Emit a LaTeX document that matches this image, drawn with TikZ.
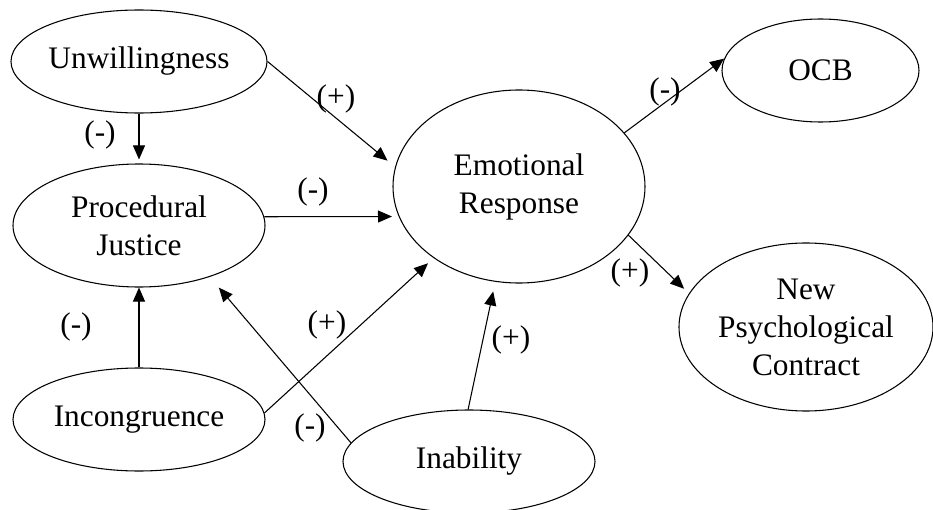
\documentclass[tikz,border=0pt]{standalone}
\usepackage{fontspec}
\setmainfont{Liberation Serif}
\usetikzlibrary{shapes.geometric,arrows.meta}
\begin{document}
\begin{tikzpicture}[x=0.75pt,y=-0.75pt,
  var/.style={ellipse, draw, line width=0.8pt, inner sep=0pt, minimum width=189pt, minimum height=77.25pt, align=center, font=\fontsize{23.5}{28.5}\selectfont},
  sgn/.style={inner sep=0pt, font=\fontsize{23.5}{28.5}\selectfont},
  arr/.style={-{Triangle[length=10.5pt,width=9pt]}, line width=0.8pt}]
\useasboundingbox (0,0) rectangle (933,510);
\node[var] (unw) at (139,61.5){Unwillingness};
\node[var, minimum height=92.25pt] (pj) at (139,225.5){Procedural\\Justice};
\node[var] (inc) at (139,419.5){Incongruence};
\node[var] (inab) at (469,461.5){Inability};
\node[var, minimum height=144.75pt] (er) at (519,186.5){Emotional\\Response};
\node[var, minimum width=147.75pt] (ocb) at (820.5,70.5){OCB};
\node[var, minimum width=190.5pt, minimum height=126pt] (npc) at (806,327){New\\Psychological\\Contract};
\draw[arr, shorten >=3pt](unw) -- (pj);
\draw[arr, shorten >=7.3pt](unw.east) -- (er.171);
\draw[arr, shorten >=5pt](pj.4) -- (er.194.5);
\draw[arr](inc) -- (pj);
\draw[arr, shorten >=5.7pt](inc.3) -- (er.220);
\draw[arr, shorten >=10.5pt](inab.171) -- (pj.-36);
\draw[arr, shorten >=7.4pt](inab.91) -- (er.256);
\draw[arr](er.27) -- (ocb.173);
\draw[arr, shorten >=5pt](er.-24) -- (npc.164);
\node[sgn] (s0) at (100,135){(-)};
\node[sgn] (s1) at (336,99){(+)};
\node[sgn] (s2) at (313,192){(-)};
\node[sgn] (s3) at (76,327){(-)};
\node[sgn] (s4) at (327,325){(+)};
\node[sgn] (s5) at (310,428){(-)};
\node[sgn] (s6) at (511,340){(+)};
\node[sgn] (s7) at (665,92){(-)};
\node[sgn] (s8) at (630,273){(+)};
\end{tikzpicture}
\end{document}
